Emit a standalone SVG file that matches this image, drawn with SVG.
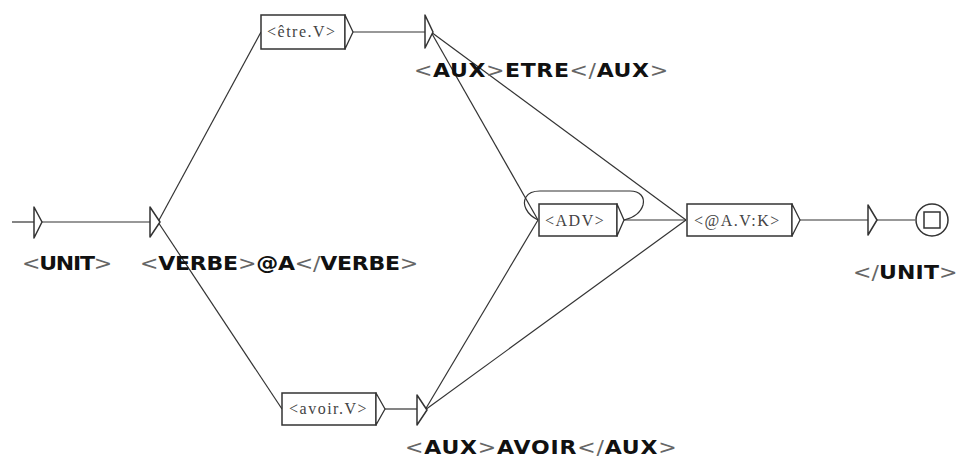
<svg xmlns="http://www.w3.org/2000/svg" width="960" height="459" viewBox="0 0 960 459">
  <style>
    .edge { fill: none; stroke: #333; stroke-width: 1.2; }
    .state { fill: #fff; stroke: #333; stroke-width: 1.5; stroke-linejoin: round; }
    .box { fill: #fff; stroke: #333; stroke-width: 1.5; }
    .tip { fill: #fff; stroke: #333; stroke-width: 1.3; stroke-linejoin: round; }
    .btext { font-family: "Liberation Serif", "Times New Roman", serif; font-size: 16px; fill: #444; letter-spacing: 1.5px; }
    .out { font-family: "DejaVu Sans", Verdana, sans-serif; font-size: 20px; fill: #111; font-weight: bold; }
    .out .p { font-weight: normal; fill: #666; }
  </style>

  <!-- transitions -->
  <g id="edges">
    <line class="edge" x1="12" y1="222" x2="34" y2="222"/>
    <line class="edge" x1="42" y1="222" x2="150" y2="222"/>
    <line class="edge" x1="158" y1="222" x2="261" y2="32"/>
    <line class="edge" x1="158" y1="222" x2="282" y2="409"/>
    <line class="edge" x1="353" y1="32" x2="425" y2="32"/>
    <line class="edge" x1="385" y1="409" x2="417" y2="409"/>
    <line class="edge" x1="431" y1="32" x2="538" y2="220"/>
    <line class="edge" x1="431" y1="32" x2="686" y2="220"/>
    <line class="edge" x1="425" y1="410" x2="538" y2="220"/>
    <line class="edge" x1="425" y1="410" x2="686" y2="220"/>
    <line class="edge" x1="624" y1="220" x2="686" y2="220"/>
    <path class="edge" d="M538,220 C526,214 522,204 526,197 C529,192 534,191 540,191 L630,191 C640,191 645,197 643,205 C641,212 634,218 624,220"/>
    <line class="edge" x1="800" y1="220" x2="868" y2="220"/>
    <line class="edge" x1="877" y1="220" x2="915" y2="220"/>
  </g>

  <!-- initial state -->
  <g id="n-start">
    <polygon class="state" points="34,207 42,222 34,238"/>
    <text class="out" transform="translate(22,270) scale(1.1,1)" textLength="82" lengthAdjust="spacing"><tspan class="p">&lt;</tspan>UNIT<tspan class="p">&gt;</tspan></text>
  </g>

  <!-- verb output -->
  <g id="n-verbe">
    <polygon class="state" points="150,207 160,222 150,237"/>
    <text class="out" transform="translate(140,270) scale(1.1,1)" textLength="253" lengthAdjust="spacing"><tspan class="p">&lt;</tspan>VERBE<tspan class="p">&gt;</tspan>@A<tspan class="p">&lt;/</tspan>VERBE<tspan class="p">&gt;</tspan></text>
  </g>

  <!-- être.V -->
  <g id="n-etre-v">
    <rect class="box" x="261" y="15" width="84" height="34"/>
    <polygon class="tip" points="345,15 353,32 345,49"/>
    <text class="btext" x="267" y="37">&lt;être.V&gt;</text>
  </g>

  <!-- AUX ETRE output -->
  <g id="n-aux-etre">
    <polygon class="state" points="425,15 433,32 425,48"/>
    <text class="out" transform="translate(414,77) scale(1.1,1)" textLength="231" lengthAdjust="spacing"><tspan class="p">&lt;</tspan>AUX<tspan class="p">&gt;</tspan>ETRE<tspan class="p">&lt;/</tspan>AUX<tspan class="p">&gt;</tspan></text>
  </g>

  <!-- avoir.V -->
  <g id="n-avoir-v">
    <rect class="box" x="282" y="393" width="94" height="32"/>
    <polygon class="tip" points="376,393 385,409 376,425"/>
    <text class="btext" x="289" y="414">&lt;avoir.V&gt;</text>
  </g>

  <!-- AUX AVOIR output -->
  <g id="n-aux-avoir">
    <polygon class="state" points="417,395 427,410 417,425"/>
    <text class="out" transform="translate(405,454) scale(1.1,1)" textLength="247" lengthAdjust="spacing"><tspan class="p">&lt;</tspan>AUX<tspan class="p">&gt;</tspan>AVOIR<tspan class="p">&lt;/</tspan>AUX<tspan class="p">&gt;</tspan></text>
  </g>

  <!-- ADV -->
  <g id="n-adv">
    <rect class="box" x="539" y="204" width="78" height="32"/>
    <polygon class="tip" points="617,204 624,220 617,236"/>
    <text class="btext" x="545" y="226">&lt;ADV&gt;</text>
  </g>

  <!-- @A.V:K -->
  <g id="n-avk">
    <rect class="box" x="687" y="204" width="105" height="32"/>
    <polygon class="tip" points="792,204 800,220 792,236"/>
    <text class="btext" x="694" y="226">&lt;@A.V:K&gt;</text>
  </g>

  <!-- closing output -->
  <g id="n-unit-end">
    <polygon class="state" points="868,205 877,220 868,235"/>
    <text class="out" transform="translate(853,279) scale(1.1,1)" textLength="95" lengthAdjust="spacing"><tspan class="p">&lt;/</tspan>UNIT<tspan class="p">&gt;</tspan></text>
  </g>

  <!-- final state -->
  <g id="n-final">
    <circle class="state" cx="932" cy="220" r="16"/>
    <rect fill="none" stroke="#333" stroke-width="1.5" x="924" y="212" width="16" height="16"/>
  </g>
</svg>
